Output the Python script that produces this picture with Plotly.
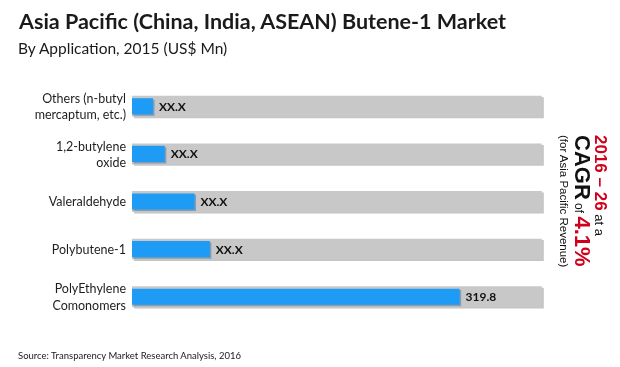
import plotly.graph_objects as go

categories = ["Others (n-butyl<br>mercaptum, etc.)", "1,2-butylene<br>oxide", "Valeraldehyde",
              "Polybutene-1", "PolyEthylene<br>Comonomers"]
values = [20.5, 32, 61, 76, 319.8]
value_labels = ["XX.X", "XX.X", "XX.X", "XX.X", "319.8"]
track_max = [400, 400, 400, 400, 400]

BLUE = "#1E9BF5"
TRACK = "#C8C8C8"
SHADOW = "#9E9E9E"
FONT = "Lato, 'Open Sans', sans-serif"

fig = go.Figure()
# track shadow
fig.add_trace(go.Bar(y=categories, x=track_max, base=[2]*5, orientation="h",
                     marker=dict(color=SHADOW, line=dict(width=0)), width=0.44, offset=-0.20,
                     hoverinfo="skip", opacity=0.6))
# track
fig.add_trace(go.Bar(y=categories, x=track_max, orientation="h",
                     marker=dict(color=TRACK, line=dict(width=0)), width=0.44, offset=-0.23,
                     hoverinfo="skip"))
# blue shadow
fig.add_trace(go.Bar(y=categories, x=values, base=[1.5]*5, orientation="h",
                     marker=dict(color="#5a7fa0", line=dict(width=0)), width=0.34, offset=-0.15,
                     hoverinfo="skip", opacity=0.6))
# values
fig.add_trace(go.Bar(y=categories, x=values, orientation="h",
                     marker=dict(color=BLUE, line=dict(width=0)), width=0.34, offset=-0.18,
                     text=["<b> %s</b>" % t for t in value_labels], textposition="outside",
                     textfont=dict(family=FONT, size=12, color="#111111"),
                     cliponaxis=False, hoverinfo="skip"))

fig.update_layout(
    width=620, height=367, barmode="overlay", showlegend=False,
    paper_bgcolor="white", plot_bgcolor="white",
    margin=dict(l=132, r=68, t=83, b=46),
    xaxis=dict(range=[0, 410], visible=False, fixedrange=True),
    yaxis=dict(categoryorder="array", categoryarray=categories, autorange=False,
               range=[4.5, -0.5], showgrid=False, zeroline=False, showline=False,
               ticks="", ticklabelstandoff=5, fixedrange=True,
               tickfont=dict(family=FONT, size=12.5, color="#1e1e1e")),
    font=dict(family=FONT),
)

annos = [
    dict(text="<b>Asia Pacific (China, India, ASEAN) Butene-1 Market</b>", x=16, y=6,
         font=dict(size=21.5, color="#1a1a1a", family=FONT)),
    dict(text="By Application, 2015 (US$ Mn)", x=16, y=37,
         font=dict(size=15.5, color="#1a1a1a", family=FONT)),
    dict(text="Source: Transparency Market Research Analysis, 2016", x=16, y=348,
         font=dict(size=9.5, color="#1a1a1a", family=FONT)),
]
for a in annos:
    fig.add_annotation(xref="paper", yref="paper", x=(a["x"] - 132) / 420, y=1 - (a["y"] - 83) / 238,
                       xanchor="left", yanchor="top", text=a["text"], showarrow=False,
                       font=a["font"], align="left")

ARIAL = "Arial, 'Liberation Sans', sans-serif"
side = [
    (601, "<b><span style='color:#D0021B;font-size:17px'>2016 – 26</span></b> <span style='font-size:13px'>at a</span>"),
    (583, "<b><span style='font-size:22px'>CAGR</span></b><span style='font-size:12px'> of </span><b><span style='color:#D0021B;font-size:22px'>4.1%</span></b>"),
    (564, "<span style='font-size:11.5px'>(for Asia Pacific Revenue)</span>"),
]
for xpx, txt in side:
    fig.add_annotation(xref="paper", yref="paper", x=(xpx - 132) / 420, y=1 - (133 - 83) / 238,
                       xanchor="center", yanchor="top", text=txt, showarrow=False, textangle=90,
                       font=dict(family=ARIAL, color="#111111", size=13))

fig.write_html("out.html", config={"displayModeBar": False, "staticPlot": True},
               post_script="document.body.style.margin='0px';document.body.style.overflow='hidden';")
